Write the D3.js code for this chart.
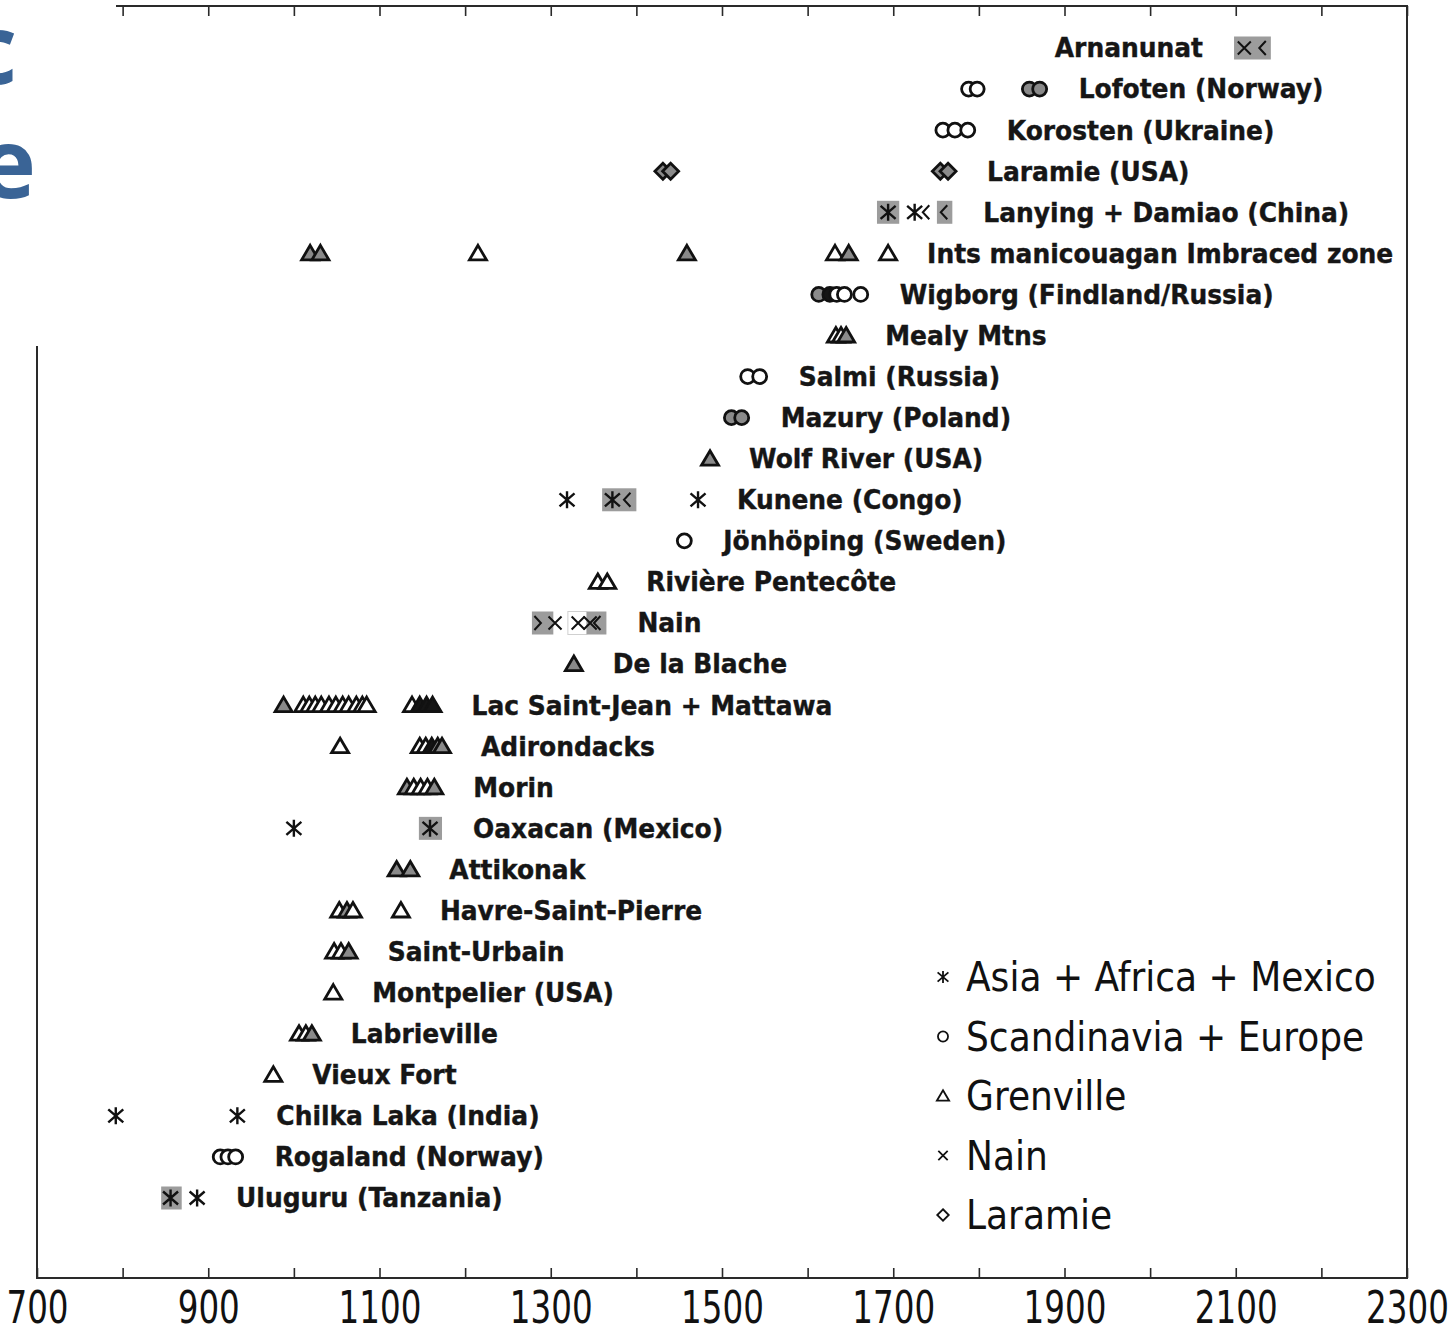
<!DOCTYPE html>
<html><head><meta charset="utf-8">
<script src="https://cdn.jsdelivr.net/npm/d3@7"></script>
<style>body{margin:0;background:#fff;} svg{display:block}</style>
</head><body><svg id="c" width="1451" height="1333"></svg>
<script>
// ---------- DATA ----------
const categories = [
  "Arnanunat", "Lofoten (Norway)", "Korosten (Ukraine)", "Laramie (USA)",
  "Lanying + Damiao (China)", "Ints manicouagan Imbraced zone",
  "Wigborg (Findland/Russia)", "Mealy Mtns", "Salmi (Russia)", "Mazury (Poland)",
  "Wolf River (USA)", "Kunene (Congo)", "Jönhöping (Sweden)", "Rivière Pentecôte",
  "Nain", "De la Blache", "Lac Saint-Jean + Mattawa", "Adirondacks", "Morin",
  "Oaxacan (Mexico)", "Attikonak", "Havre-Saint-Pierre", "Saint-Urbain",
  "Montpelier (USA)", "Labrieville", "Vieux Fort", "Chilka Laka (India)",
  "Rogaland (Norway)", "Uluguru (Tanzania)"
];
const labelBeforeMarkers = ["Arnanunat"];
const xTickLabels = [700, 900, 1100, 1300, 1500, 1700, 1900, 2100, 2300];
const xTicks = [700, 800, 900, 1000, 1100, 1200, 1300, 1400, 1500, 1600, 1700, 1800, 1900, 2000, 2100, 2200, 2300];

// [row, age (Ma), kind]  kind: o = open, g = shaded, k = solid
const asteriskPts = [
  [4, 1694, "o"], [4, 1725, "o"],
  [11, 1319, "o"], [11, 1372, "o"], [11, 1472, "o"],
  [19, 1000, "o"], [19, 1159, "o"],
  [26, 792, "o"], [26, 934, "o"],
  [28, 856, "o"], [28, 887, "o"]
];
const crossPts = [
  [0, 2110, "o"],
  [14, 1305, "o"], [14, 1332, "o"], [14, 1346, "o"]
];
const chevronLeftPts = [
  [0, 2131, "o"], [4, 1738, "o"], [4, 1759, "o"], [11, 1389, "o"], [14, 1354, "o"]
];
const chevronRightPts = [
  [14, 1285, "o"]
];
const circlePts = [
  [1, 1788, "o"], [1, 1798, "o"], [1, 1859, "g"], [1, 1871, "g"],
  [2, 1758, "o"], [2, 1772, "o"], [2, 1787, "o"],
  [6, 1613, "g"], [6, 1626, "k"], [6, 1634, "o"], [6, 1643, "o"], [6, 1662, "o"],
  [8, 1530, "o"], [8, 1544, "o"],
  [9, 1511, "g"], [9, 1523, "g"],
  [12, 1456, "o"],
  [27, 914, "o"], [27, 923, "o"], [27, 932, "o"]
];
const diamondPts = [
  [3, 1431, "g"], [3, 1440, "g"], [3, 1755, "g"], [3, 1764, "g"]
];
const trianglePts = [
  [5, 1019, "g"], [5, 1031, "g"], [5, 1215, "o"], [5, 1459, "g"], [5, 1632, "o"], [5, 1648, "g"], [5, 1694, "o"],
  [7, 1633, "o"], [7, 1639, "o"], [7, 1645, "g"],
  [10, 1486, "g"],
  [13, 1355, "o"], [13, 1366, "o"],
  [15, 1327, "g"],
  [16, 988, "g"], [16, 1011, "o"], [16, 1018, "o"], [16, 1025, "o"], [16, 1032, "o"], [16, 1041, "o"],
  [16, 1049, "o"], [16, 1057, "o"], [16, 1064, "o"], [16, 1073, "o"], [16, 1080, "o"], [16, 1085, "o"],
  [16, 1138, "o"], [16, 1147, "k"], [16, 1155, "k"], [16, 1162, "k"],
  [17, 1054, "o"], [17, 1147, "o"], [17, 1154, "o"], [17, 1161, "k"], [17, 1168, "g"], [17, 1173, "g"],
  [18, 1132, "g"], [18, 1140, "o"], [18, 1148, "o"], [18, 1156, "o"], [18, 1164, "g"],
  [20, 1120, "g"], [20, 1136, "g"],
  [21, 1053, "o"], [21, 1062, "g"], [21, 1069, "o"], [21, 1125, "o"],
  [22, 1047, "o"], [22, 1055, "o"], [22, 1064, "g"],
  [23, 1046, "o"],
  [24, 1006, "o"], [24, 1014, "o"], [24, 1021, "g"],
  [25, 976, "o"]
];
// shaded sample ranges [row, from, to, kind]
const boxRanges = [
  [0, 2098, 2141, "g"],
  [4, 1681, 1707, "g"], [4, 1751, 1769, "g"],
  [11, 1360, 1400, "g"],
  [14, 1278, 1303, "g"], [14, 1320, 1342, "o"], [14, 1342, 1365, "g"],
  [19, 1146, 1173, "g"],
  [28, 845, 869, "g"]
];
const legendItems = [
  ["asterisk", "Asia + Africa + Mexico"],
  ["circle", "Scandinavia + Europe"],
  ["triangle", "Grenville"],
  ["cross", "Nain"],
  ["diamond", "Laramie"]
];

// ---------- DRAW ----------
(function () {
const svg = d3.select("#c");
const mL = 37, mR = 1407, mT = 6, mB = 1278;
const x = d3.scaleLinear().domain([700, 2300]).range([mL, mR]);
const y = d3.scaleLinear().domain([0, categories.length - 1]).range([48, 1198]);

const fills = { o: "#ffffff", g: "#8a8a8a", k: "#151515" };
const ink = "#111111";

function symPath(type, s) {
  const r = 7 * s;
  switch (type) {
    case "triangle": return `M0,${-8*s}L${8.5*s},${6.5*s}L${-8.5*s},${6.5*s}Z`;
    case "circle": return `M${r},0A${r},${r} 0 1 1 ${-r},0A${r},${r} 0 1 1 ${r},0Z`;
    case "diamond": return `M0,${-8*s}L${8*s},0L0,${8*s}L${-8*s},0Z`;
    case "asterisk": return `M0,${-8.5*s}V${8.5*s}M${-7.5*s},${-6.5*s}L${7.5*s},${6.5*s}M${-7.5*s},${6.5*s}L${7.5*s},${-6.5*s}`;
    case "cross": return `M${-6.5*s},${-6.5*s}L${6.5*s},${6.5*s}M${-6.5*s},${6.5*s}L${6.5*s},${-6.5*s}`;
    case "chevL": return `M${3.5*s},${-7*s}L${-3*s},0L${3.5*s},${7*s}`;
    case "chevR": return `M${-3.5*s},${-7*s}L${3*s},0L${-3.5*s},${7*s}`;
  }
}
const filled = { triangle: true, circle: true, diamond: true };

svg.append("rect").attr("x", mL).attr("y", mT).attr("width", mR - mL).attr("height", mB - mT)
  .attr("fill", "none").attr("stroke", "#2a2a2a").attr("stroke-width", 2);

const axB = svg.append("g").attr("transform", `translate(0,${mB})`)
  .call(d3.axisBottom(x).tickValues(xTicks).tickSize(-10).tickPadding(14)
    .tickFormat(d => xTickLabels.includes(d) ? String(d) : ""));
axB.select(".domain").remove();
axB.selectAll(".tick line").attr("stroke", "#2a2a2a").attr("stroke-width", 1.6);
axB.selectAll(".tick text").attr("font-family", "DejaVu Sans, Verdana, sans-serif")
  .attr("font-size", 44).attr("fill", "#111").attr("transform", "scale(0.74,1)");

const axT = svg.append("g").attr("transform", `translate(0,${mT})`)
  .call(d3.axisTop(x).tickValues(xTicks).tickSize(-10).tickFormat(""));
axT.select(".domain").remove();
axT.selectAll(".tick line").attr("stroke", "#2a2a2a").attr("stroke-width", 1.6);

const plot = svg.append("g");
plot.selectAll("rect.box").data(boxRanges).join("rect").attr("class", "box")
  .attr("x", d => x(d[1])).attr("width", d => x(d[2]) - x(d[1]))
  .attr("y", d => y(d[0]) - 11.5).attr("height", 23)
  .attr("fill", d => d[3] === "g" ? "#9c9c9c" : "#ffffff")
  .attr("stroke", d => d[3] === "g" ? "none" : "#d0d0d0").attr("stroke-width", 1);

function drawPts(data, type, s, sw) {
  plot.append("g").selectAll("path").data(data).join("path")
    .attr("transform", d => `translate(${x(d[1])},${y(d[0])})`)
    .attr("d", symPath(type, s))
    .attr("fill", d => filled[type] ? fills[d[2]] : "none")
    .attr("stroke", ink).attr("stroke-width", sw).attr("stroke-linejoin", "miter");
}
drawPts(diamondPts, "diamond", 1, 2.8);
drawPts(circlePts, "circle", 1, 2.8);
drawPts(trianglePts, "triangle", 1, 2.8);
drawPts(asteriskPts, "asterisk", 1, 2.4);
drawPts(crossPts, "cross", 1, 2.0);
drawPts(chevronLeftPts, "chevL", 1, 2.0);
drawPts(chevronRightPts, "chevR", 1, 2.0);

const allPts = [].concat(asteriskPts, crossPts, chevronLeftPts, chevronRightPts, circlePts, diamondPts, trianglePts);
const labelG = svg.append("g");
categories.forEach((name, i) => {
  const pts = allPts.filter(p => p[0] === i);
  const boxes = boxRanges.filter(b => b[0] === i);
  const rightEdge = d3.max([].concat(pts.map(p => x(p[1]) + 8), boxes.map(b => x(b[2]))));
  const leftEdge = d3.min([].concat(pts.map(p => x(p[1]) - 8), boxes.map(b => x(b[1]))));
  const before = labelBeforeMarkers.includes(name);
  const lx = before ? leftEdge - 31 : rightEdge + 31;
  labelG.append("text")
    .attr("transform", `translate(${lx},${y(i)}) scale(0.96,1)`)
    .attr("dy", "0.36em")
    .attr("text-anchor", before ? "end" : "start")
    .attr("font-family", "DejaVu Sans, Verdana, sans-serif")
    .attr("font-weight", "bold").attr("font-size", 26).attr("fill", "#161616")
    .attr("stroke", "#161616").attr("stroke-width", 0.4)
    .text(name);
});

const lg = svg.append("g");
legendItems.forEach((it, i) => {
  const ly = 977 + i * 59.5;
  lg.append("path").attr("transform", `translate(943,${ly})`)
    .attr("d", symPath(it[0], 0.72))
    .attr("fill", filled[it[0]] ? "#fff" : "none")
    .attr("stroke", ink).attr("stroke-width", 1.8);
  lg.append("text").attr("transform", `translate(966,${ly}) scale(0.9,1)`)
    .attr("dy", "0.36em")
    .attr("font-family", "DejaVu Sans, Verdana, sans-serif")
    .attr("font-size", 40).attr("fill", "#111").text(it[1]);
});

svg.append("rect").attr("x", 0).attr("y", 0).attr("width", 116).attr("height", 346).attr("fill", "#fff");
const title = svg.append("g").attr("font-family", "Open Sans, sans-serif").attr("font-weight", "bold")
  .attr("font-size", 96).attr("fill", "#3a6496").attr("text-anchor", "end");
title.append("text").attr("x", 17).attr("y", 84).text("c");
title.append("text").attr("x", 36).attr("y", 198).text("e");
})();
</script>
</body></html>
